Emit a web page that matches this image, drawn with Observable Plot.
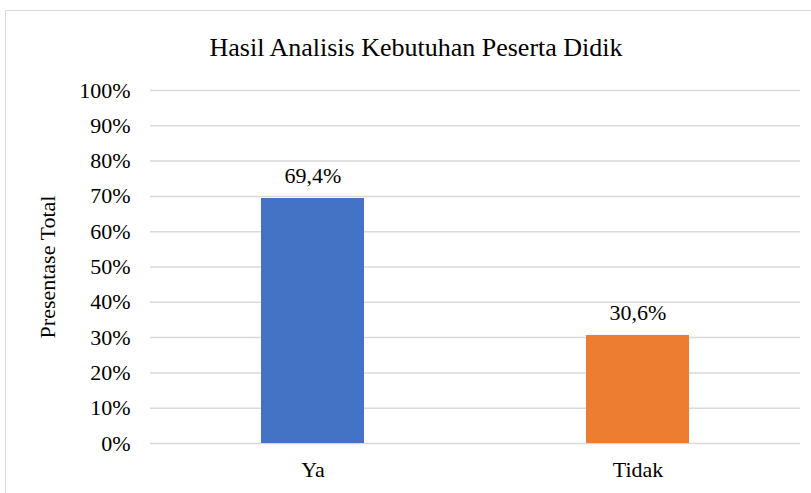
<!DOCTYPE html>
<html><head><meta charset="utf-8">
<script src="https://cdn.jsdelivr.net/npm/d3@7"></script>
<script src="https://cdn.jsdelivr.net/npm/@observablehq/plot@0.6"></script>
</head>
<body style="margin:0;padding:0;background:#fff">
<div style="position:relative;width:811px;height:493px;overflow:hidden;background:#fff">
  <div style="position:absolute;left:5px;top:10px;width:900px;height:600px;border-top:1.5px solid #d9d9d9;border-left:1.5px solid #d9d9d9"></div>
  <div style="position:absolute;left:5px;top:30px;width:822px;text-align:center;font-family:'Liberation Serif';font-size:26px;line-height:36px">Hasil Analisis Kebutuhan Peserta Didik</div>
  <div id="chart" style="position:absolute;left:0;top:70px"></div>
</div>
<script>
const categories = ["Ya", "Tidak"];
const values = [69.4, 30.6];
const colors = ["#4472C4", "#ED7D31"];
const yTicks = [0, 10, 20, 30, 40, 50, 60, 70, 80, 90, 100];
const yLabel = "Presentase Total";

const data = categories.map((c, i) => ({ cat: c, value: values[i], color: colors[i] }));
const fmt = v => v.toFixed(1).replace(".", ",") + "%";

const chart = Plot.plot({
  width: 811,
  height: 423,
  marginTop: 20,
  marginBottom: 50,
  marginLeft: 150,
  marginRight: 11,
  style: { fontFamily: "'Liberation Serif'", fontSize: "22px" },
  x: { domain: categories, paddingInner: 0.683, paddingOuter: 0.3415, label: null },
  y: { domain: [0, 100], label: null },
  marks: [
    Plot.gridY(yTicks, { stroke: "#d9d9d9", strokeOpacity: 1, strokeWidth: 1.5 }),
    Plot.barY(data, { x: "cat", y: "value", fill: "color" }),
    Plot.text(data, { x: "cat", y: "value", text: d => fmt(d.value), dy: -23 }),
    Plot.axisY(yTicks, { tickSize: 0, tickPadding: 20, tickFormat: d => d + "%",
      label: yLabel, labelAnchor: "center", labelArrow: "none", labelOffset: 111 }),
    Plot.axisX({ tickSize: 0, tickPadding: 18 })
  ]
});
document.getElementById("chart").appendChild(chart);
</script>
</body>
</html>
